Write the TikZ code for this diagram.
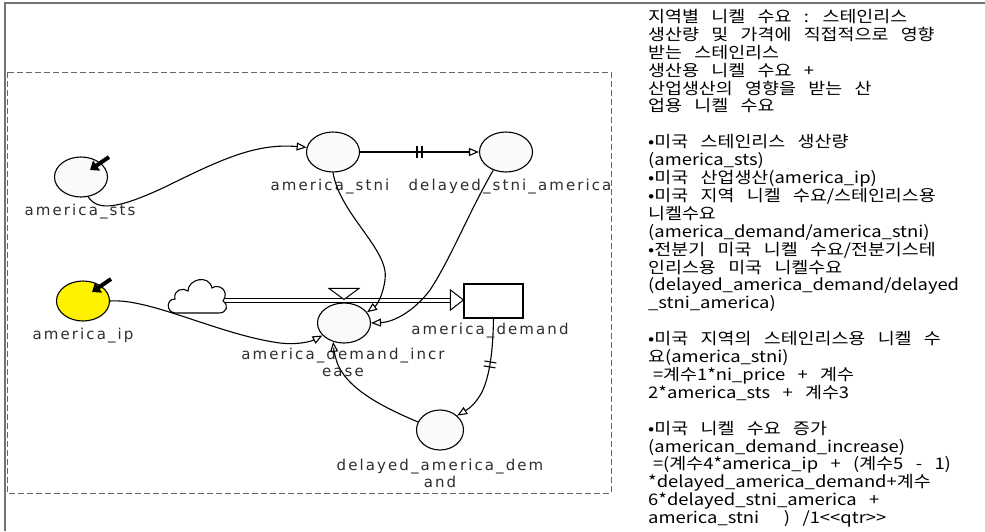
\documentclass[tikz,border=0pt]{standalone}
\usepackage{fontspec}
\usetikzlibrary{arrows.meta,shapes.geometric,decorations.markings,calc}
\newfontfamily\krfont{Noto Sans CJK KR}[FakeStretch=1.15, WordSpace=3]
\newfontfamily\lblfont{DejaVu Sans}[LetterSpace=14]

\tikzset{
  var/.style={ellipse, draw=black, line width=1.1pt, fill=black!2,
    minimum width=53pt, minimum height=40pt, inner sep=0pt},
  lbl/.style={font=\lblfont\fontsize{15}{17}\selectfont, text=black!82,
    inner sep=0pt, align=center},
  link/.style={line width=1.1pt, -{Triangle[open, length=10pt, width=8pt]}},
  inmark/.style={line width=4pt, -{Triangle[length=8pt, width=12pt]}},
  delaymark/.style={postaction={decorate}, decoration={markings,
    mark=at position #1 with {
      \draw[-, line width=1.1pt] (-2.5,-6) -- (-2.5,6);
      \draw[-, line width=1.1pt] (2.5,-6) -- (2.5,6);}}},
  frameline/.style={draw=black!55, line width=2pt},
  boxline/.style={draw=black!60, line width=0.9pt, dash pattern=on 6pt off 3pt},
}

\begin{document}
\begin{tikzpicture}[x=1pt, y=-1pt]
  \useasboundingbox (0,0) rectangle (985,531);
  \fill[white] (0,0) rectangle (985,531);

  % page frame and the dashed model sector
  \draw[frameline] (5,531) -- (5,3) -- (985,3);
  \draw[boxline] (7,72) rectangle (611,493);

  % auxiliaries and the stock
  \node[var] (sts)  at (81,177)  {};
  \node[var, fill=yellow] (ip) at (83,301) {};
  \node[var] (stni) at (333,152) {};
  \node[var] (dstni) at (506,152) {};
  \node[var] (rate) at (344,323) {};
  \node[var, minimum width=47pt] (dad) at (440,430) {};
  \node[draw=black, line width=1.1pt, fill=white, minimum width=59pt,
        minimum height=34pt, inner sep=0pt] (stock) at (493.5,301) {};

  % variable names
  \node[lbl] (tsts)  at (80,212)  {america\_sts};
  \node[lbl] (tip)   at (83,336)  {america\_ip};
  \node[lbl] (tstni) at (330,187) {america\_stni};
  \node[lbl] (tdstni) at (510,187) {delayed\_stni\_america};
  \node[lbl] (tstock) at (490,331) {america\_demand};
  \node[lbl] (trate) at (343,362) {america\_demand\_incr\\ease};
  \node[lbl] (tdad)  at (440,473) {delayed\_america\_dem\\and};

  % exogenous input markers
  \draw[inmark] ($(sts.center)+(28,-20)$) -- ($(sts.center)+(9,-7)$);
  \draw[inmark] ($(ip.center)+(28,-22)$) -- ($(ip.center)+(9,-9)$);

  % source cloud
  \draw[line width=1.1pt, fill=white]
    (175,313) .. controls (166,312) and (166,299) .. (175,299)
    .. controls (173,290) and (183,287) .. (188,291)
    .. controls (188,279) and (209,274) .. (212,288)
    .. controls (219,283) and (230,291) .. (223,301)
    .. controls (229,305) and (227,313) .. (219,313) -- cycle;
  \coordinate (src) at (225,300);

  % flow pipe, valve and flow head
  \draw[line width=1pt, double=white, double distance=3pt]
    (src) -- ($(stock.west)+(-13,-1)$);
  \draw[line width=1pt, fill=white]
    ($(stock.west)+(-13,-11)$) -- ($(stock.west)+(0,-1)$)
    -- ($(stock.west)+(-13,9)$) -- cycle;
  \draw[line width=1pt, fill=white]
    ($(rate.north)+(-15,-14)$) -- ($(rate.north)+(15,-14)$)
    -- ($(rate.north)+(0,-3)$) -- cycle;

  % information links
  \draw[link] (sts.290) .. controls (98,212) and (120,208) .. (165,187)
    .. controls (220,160) and (255,143) .. (stni.170);
  \draw[link, delaymark=0.5] (stni.east) -- (dstni.west);
  \draw[link] (stni.270) .. controls (340,215) and (390,250) .. (385,280)
    .. controls (383,295) and (377,305) .. (rate.25);
  \draw[link] (dstni.235) .. controls (470,210) and (450,260) .. (430,290)
    .. controls (415,310) and (395,322) .. (rate.east);
  \draw[link] (ip.east) .. controls (150,298) and (220,335) .. (280,343)
    .. controls (295,345) and (310,342) .. (rate.210);
  \draw[link, delaymark=0.42] (stock.south) .. controls (493,350) and (490,375) .. (482,392)
    .. controls (476,403) and (470,408) .. (dad.40);
  \draw[link] (dad.160) .. controls (390,410) and (350,392) .. (338,365)
    .. controls (335,357) and (334,350) .. (rate.240);

  % notes
  \node[anchor=north west, inner sep=0pt, align=left,
        font=\krfont\fontsize{16}{17.9}\selectfont] (notes) at (648,9) {%
    지역별 니켈 수요 : 스테인리스\\
    생산량 및 가격에 직접적으로 영향\\
    받는 스테인리스\\
    생산용 니켈 수요 +\\
    산업생산의 영향을 받는 산\\
    업용 니켈 수요\\[17.9pt]
    •미국 스테인리스 생산량\\
    (america\_sts)\\
    •미국 산업생산(america\_ip)\\
    •미국 지역 니켈 수요/스테인리스용\\
    니켈수요\\
    (america\_demand/america\_stni)\\
    •전분기 미국 니켈 수요/전분기스테\\
    인리스용 미국 니켈수요\\
    (delayed\_america\_demand/delayed\\
    \_stni\_america)\\[17.9pt]
    •미국 지역의 스테인리스용 니켈 수\\
    요(america\_stni)\\
    \hspace*{0.3em}=계수1*ni\_price + 계수\\
    2*america\_sts + 계수3\\[17.9pt]
    •미국 니켈 수요 증가\\
    (american\_demand\_increase)\\
    \hspace*{0.3em}=(계수4*america\_ip + (계수5 - 1)\\
    *delayed\_america\_demand+계수\\
    6*delayed\_stni\_america +\\
    america\_stni\ \ ) /1<<qtr>>};
\end{tikzpicture}
\end{document}
